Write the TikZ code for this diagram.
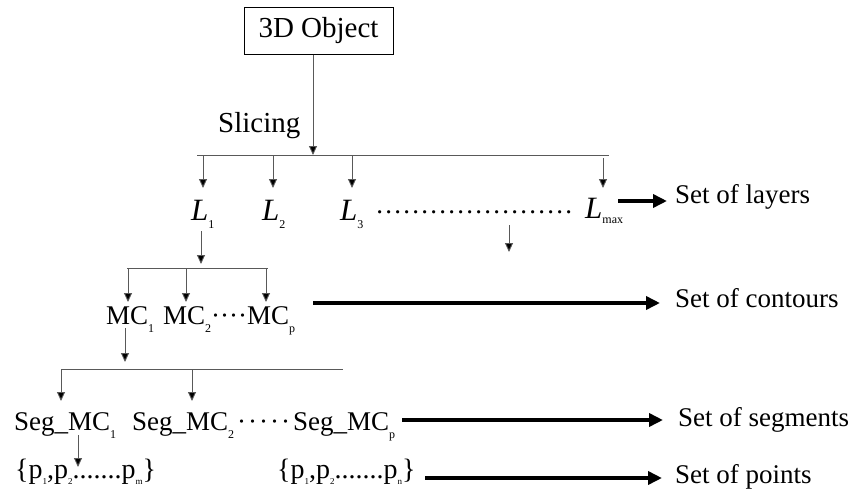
\documentclass[tikz,border=0pt]{standalone}
\usepackage{fontspec}
\setmainfont{Liberation Serif}
\usetikzlibrary{arrows.meta}
\newcommand\sbx[1]{\raisebox{-8pt}{\fontsize{12}{13}\selectfont #1}}
\newcommand\psb[1]{\raisebox{-6pt}{\fontsize{9}{10}\selectfont #1}}
\newcommand\dotrow[3]{\hbox to #1{\leaders\hbox to #2{\hss #3\hss}\hfill}}
\tikzset{
  lbl/.style={anchor=base west, inner sep=0pt, font=\fontsize{27}{30}\selectfont},
  big/.style={font=\fontsize{29}{32}\selectfont},
  lay/.style={font=\fontsize{31}{34}\selectfont},
  thinline/.style={draw=black!65, line width=0.9pt},
  arr/.style={thinline, -{Triangle[length=9pt,width=8pt,fill=black]}},
  fatarr/.style={draw=black, line width=4.6pt, -{Triangle[length=14pt,width=13pt]}},
  objbox/.style={draw=black, line width=1pt, minimum width=149pt, minimum height=47pt, inner sep=0pt, font=\fontsize{29}{32}\selectfont}
}
\begin{document}
\begin{tikzpicture}[x=1pt,y=-1pt]
\useasboundingbox (0,0) rectangle (854,498);
% top
\node[objbox] (obj) at (318.5,30.5) {3D Object};
\node[lbl,big] (slicing) at (218,132) {Slicing};
\coordinate (b1) at (313,155);
\coordinate (b1l) at (197,155);
\coordinate (b1r) at (609,155);
\draw[arr] (obj.south -| b1) -- (b1);
\draw[thinline] (b1l) -- (b1r);
% layers
\node[lbl,lay] (L1) at (191,220) {\textit{L}\sbx{1}};
\node[lbl,lay] (L2) at (262,220) {\textit{L}\sbx{2}};
\node[lbl,lay] (L3) at (340,220) {\textit{L}\sbx{3}};
\node[lbl,lay] (Lm) at (585,218) {\textit{L}\raisebox{-5pt}{\fontsize{12}{13}\selectfont max}};
\node[lbl] (ldots) at (375,213) {\dotrow{198pt}{9pt}{.}};
\draw[arr] (203,156) -- (203,188);
\draw[arr] (273,156) -- (273,188);
\draw[arr] (352,156) -- (352,188);
\draw[arr] (603,158) -- (603,188);
\coordinate (fa) at (509,225);
\coordinate (fb) at (509,252);
\draw[arr] (fa) -- (fb);
\node[lbl] (setl) at (675,203) {Set of layers};
\draw[fatarr, shorten >=8pt] (618,201) -- (setl.west |- 0,201);
% contours
\coordinate (b2l) at (127,268);
\coordinate (b2r) at (268,268);
\draw[arr] (201,231) -- (201,264);
\draw[thinline] (b2l) -- (b2r);
\node[lbl] (MC1) at (106,324) {MC\sbx{1}};
\node[lbl] (MC2) at (163,324) {MC\sbx{2}};
\node[lbl] (mcd) at (211,324) {\dotrow{36pt}{9pt}{·}};
\node[lbl] (MCp) at (247,324) {MC\sbx{p}};
\draw[arr] (128,268) -- (128,302);
\draw[arr] (186,268) -- (186,302);
\draw[arr] (266,268) -- (266,302);
\node[lbl] (setc) at (675,307) {Set of contours};
\draw[fatarr, shorten >=15pt] (313,303) -- (setc.west |- 0,303);
% segments
\coordinate (b3l) at (61,369);
\coordinate (b3r) at (343,369);
\draw[arr] (125,328) -- (125,362);
\draw[thinline] (b3l) -- (b3r);
\node[lbl] (S1) at (14,430) {Seg\_MC\sbx{1}};
\node[lbl] (S2) at (132,430) {Seg\_MC\sbx{2}};
\node[lbl] (sd) at (236,430) {\dotrow{55pt}{11pt}{·}};
\node[lbl] (Sp) at (293,430) {Seg\_MC\sbx{p}};
\draw[arr] (61,369) -- (61,401);
\draw[arr] (192,369) -- (192,401);
\node[lbl] (sets) at (678,426) {Set of segments};
\draw[fatarr, shorten >=15pt] (402,420) -- (sets.west |- 0,420);
% points
\draw[arr] (78,435) -- (78,467);
\node[lbl,font=\fontsize{28}{30}\selectfont] (P1) at (15,478) {\{p\psb{1},p\psb{2}.......p\psb{m}\}};
\node[lbl,font=\fontsize{28}{30}\selectfont] (P2) at (277,478) {\{p\psb{1},p\psb{2}.......p\psb{n}\}};
\node[lbl] (setp) at (675,483) {Set of points};
\draw[fatarr, shorten >=13pt] (425,478) -- (setp.west |- 0,478);
\end{tikzpicture}
\end{document}
